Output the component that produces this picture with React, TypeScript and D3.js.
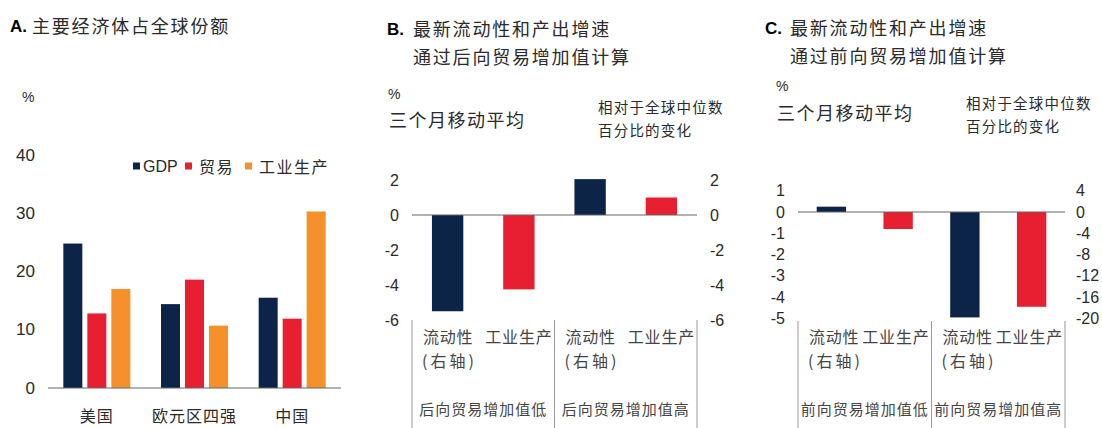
import React from 'react';
import * as d3 from 'd3';

// ---------- Data ----------
const categoriesA = ['美国', '欧元区四强', '中国'];
const seriesA = ['GDP', '贸易', '工业生产'];
const gdpA = [24.8, 14.4, 15.5];
const tradeA = [12.8, 18.6, 11.9];
const industryA = [17.0, 10.7, 30.3];
const ticksA = [0, 10, 20, 30, 40];

const groupsB = ['后向贸易增加值低', '后向贸易增加值高'];
const liquidityB = [-5.5, 2.05]; // right axis
const industryB = [-4.25, 1.0]; // left axis
const ticksBLeft = [-6, -4, -2, 0, 2];
const ticksBRight = [-6, -4, -2, 0, 2];

const groupsC = ['前向贸易增加值低', '前向贸易增加值高'];
const liquidityC = [1.0, -19.8]; // right axis
const industryC = [-0.8, -4.45]; // left axis
const ticksCLeft = [-5, -4, -3, -2, -1, 0, 1];
const ticksCRight = [-20, -16, -12, -8, -4, 0, 4];

const barLabels = ['流动性', '工业生产'];
const rightAxisNote = '(右轴)';

// ---------- Style ----------
const NAVY = '#0c2447';
const RED = '#e81f30';
const ORANGE = '#f6902b';
const colorsA = [NAVY, RED, ORANGE];
const CJK = "'Noto Sans CJK SC', 'Noto Sans', sans-serif";
const NUM = "'Liberation Sans', Arial, sans-serif";
const TXT = '#2a2a2a';
const AXIS = '#666';

function PanelA() {
  const x0 = d3.scaleBand<string>().domain(categoriesA).range([48, 341]).padding(0);
  const y = d3.scaleLinear().domain([0, 40]).range([388, 155]);
  const values = [gdpA, tradeA, industryA];
  const legendX = [133, 185, 245];
  return (
    <g>
      <text x={10} y={26} fontFamily={NUM} fontWeight="bold" fontSize={17} fill="#000" dominantBaseline="central">A.</text>
      <text x={32} y={25} fontFamily={CJK} fontSize={18} letterSpacing={1.8} fill={TXT} dominantBaseline="central">主要经济体占全球份额</text>
      <text x={22} y={97} fontFamily={NUM} fontSize={14} fill={TXT} dominantBaseline="central">%</text>
      {ticksA.map(t => (
        <text key={t} x={35} y={y(t)} textAnchor="end" fontFamily={NUM} fontSize={17} fill={TXT} dominantBaseline="central">{t}</text>
      ))}
      {categoriesA.map((c, ci) => {
        const center = (x0(c) as number) + x0.bandwidth() / 2;
        const x1 = d3.scaleBand<string>().domain(seriesA).range([center - 33.5, center + 33.5]).paddingInner(0.208);
        return (
          <g key={c}>
            {seriesA.map((s, si) => (
              <rect key={s} x={x1(s)} y={y(values[si][ci])} width={x1.bandwidth()} height={y(0) - y(values[si][ci])} fill={colorsA[si]} />
            ))}
            <text x={center} y={415} textAnchor="middle" fontFamily={CJK} fontSize={16} letterSpacing={1} fill={TXT} dominantBaseline="central">{c}</text>
          </g>
        );
      })}
      <line x1={48} x2={341} y1={y(0)} y2={y(0)} stroke={AXIS} strokeWidth={1.2} />
      {seriesA.map((s, i) => (
        <g key={s}>
          <rect x={legendX[i]} y={162.5} width={7} height={7} fill={colorsA[i]} />
          <text x={legendX[i] + (i === 0 ? 10 : 14)} y={166} fontFamily={i === 0 ? NUM : CJK} fontSize={16} letterSpacing={i === 0 ? 0 : 1.5} fill={TXT} dominantBaseline="central">{s}</text>
        </g>
      ))}
    </g>
  );
}

interface DualProps {
  letter: string;
  title1: string;
  title2: string;
  x0: number; x1: number;
  yTop: number; yBottom: number;
  leftDomain: [number, number];
  rightDomain: [number, number];
  leftTicks: number[];
  rightTicks: number[];
  liquidity: number[];
  industry: number[];
  groups: string[];
  letterX: number; titleX: number; titleY1: number; titleY2: number;
  pctX: number; pctY: number; maY: number;
  noteX: number; noteY1: number; noteY2: number;
  leftLabelX: number; rightLabelX: number;
  sepTop: number;
}

function DualPanel(p: DualProps) {
  const slots: string[] = [];
  p.groups.forEach((g, gi) => barLabels.forEach(b => slots.push(`${gi}-${b}`)));
  const xs = d3.scaleBand<string>().domain(slots).range([p.x0, p.x1]).paddingInner(0.56).paddingOuter(0.28);
  const yL = d3.scaleLinear().domain(p.leftDomain).range([p.yBottom, p.yTop]);
  const yR = d3.scaleLinear().domain(p.rightDomain).range([p.yBottom, p.yTop]);
  const step = xs.step();
  const bars: { key: string; x: number; y0: number; y1: number; color: string }[] = [];
  p.groups.forEach((g, gi) => {
    const kL = `${gi}-${barLabels[0]}`;
    const kI = `${gi}-${barLabels[1]}`;
    bars.push({ key: kL, x: xs(kL) as number, y0: yR(0), y1: yR(p.liquidity[gi]), color: NAVY });
    bars.push({ key: kI, x: xs(kI) as number, y0: yL(0), y1: yL(p.industry[gi]), color: RED });
  });
  const sepXs = [p.x0, p.x0 + 2 * step, p.x1];
  return (
    <g>
      <text x={p.letterX} y={p.titleY1 + 1} fontFamily={NUM} fontWeight="bold" fontSize={17} fill="#000" dominantBaseline="central">{p.letter}</text>
      <text x={p.titleX} y={p.titleY1} fontFamily={CJK} fontSize={18} letterSpacing={1.8} fill={TXT} dominantBaseline="central">{p.title1}</text>
      <text x={p.titleX} y={p.titleY2} fontFamily={CJK} fontSize={18} letterSpacing={1.8} fill={TXT} dominantBaseline="central">{p.title2}</text>
      <text x={p.pctX} y={p.pctY} fontFamily={NUM} fontSize={14} fill={TXT} dominantBaseline="central">%</text>
      <text x={p.pctX + 1} y={p.maY} fontFamily={CJK} fontSize={18} letterSpacing={1.5} fill={TXT} dominantBaseline="central">三个月移动平均</text>
      <text x={p.noteX} y={p.noteY1} fontFamily={CJK} fontSize={14.5} letterSpacing={1.2} fill={TXT} dominantBaseline="central">相对于全球中位数</text>
      <text x={p.noteX} y={p.noteY2} fontFamily={CJK} fontSize={14.5} letterSpacing={1.2} fill={TXT} dominantBaseline="central">百分比的变化</text>
      {p.leftTicks.map(t => (
        <text key={'l' + t} x={p.leftLabelX} y={yL(t)} textAnchor="end" fontFamily={NUM} fontSize={16} fill={TXT} dominantBaseline="central">{t}</text>
      ))}
      {p.rightTicks.map(t => (
        <text key={'r' + t} x={p.rightLabelX} y={yR(t)} textAnchor="start" fontFamily={NUM} fontSize={16} fill={TXT} dominantBaseline="central">{t}</text>
      ))}
      {bars.map(b => (
        <rect key={b.key} x={b.x} y={Math.min(b.y0, b.y1)} width={xs.bandwidth()} height={Math.abs(b.y1 - b.y0)} fill={b.color} />
      ))}
      <line x1={p.x0} x2={p.x1} y1={yL(0)} y2={yL(0)} stroke={AXIS} strokeWidth={1.2} />
      {sepXs.map((sx, i) => (
        <line key={i} x1={sx} x2={sx} y1={p.sepTop} y2={428} stroke="#999" strokeWidth={1} />
      ))}
      {p.groups.map((g, gi) => {
        const gx = p.x0 + gi * 2 * step;
        return (
          <g key={g}>
            <text x={gx + 11} y={336} fontFamily={CJK} fontSize={16} letterSpacing={0.8} fill="#444" dominantBaseline="central">{barLabels[0]}</text>
            <text x={gx + 10} y={360} fontFamily={CJK} fontSize={16} letterSpacing={3} fill="#444" dominantBaseline="central">{rightAxisNote}</text>
            <text x={gx + 2 * step - 2} y={336} textAnchor="end" fontFamily={CJK} fontSize={16} letterSpacing={0.8} fill="#444" dominantBaseline="central">{barLabels[1]}</text>
            <text x={gx + step} y={408} textAnchor="middle" fontFamily={CJK} fontSize={15} letterSpacing={1} fill="#444" dominantBaseline="central">{g}</text>
          </g>
        );
      })}
    </g>
  );
}

export default function App() {
  return (
    <svg width={1102} height={428} style={{ position: 'absolute', left: 0, top: 0, background: '#fff' }}>
      <rect width={1102} height={428} fill="#fff" />
      <PanelA />
      <DualPanel
        letter="B." title1="最新流动性和产出增速" title2="通过后向贸易增加值计算"
        x0={412} x1={697} yTop={180} yBottom={320}
        leftDomain={[-6, 2]} rightDomain={[-6, 2]}
        leftTicks={ticksBLeft} rightTicks={ticksBRight}
        liquidity={liquidityB} industry={industryB} groups={groupsB}
        letterX={387} titleX={413} titleY1={28} titleY2={56}
        pctX={388} pctY={94} maY={119}
        noteX={598} noteY1={106} noteY2={129}
        leftLabelX={399} rightLabelX={710} sepTop={320}
      />
      <DualPanel
        letter="C." title1="最新流动性和产出增速" title2="通过前向贸易增加值计算"
        x0={798} x1={1065} yTop={190.7} yBottom={318.5}
        leftDomain={[-5, 1]} rightDomain={[-20, 4]}
        leftTicks={ticksCLeft} rightTicks={ticksCRight}
        liquidity={liquidityC} industry={industryC} groups={groupsC}
        letterX={765} titleX={790} titleY1={27} titleY2={55}
        pctX={776} pctY={86} maY={112}
        noteX={966} noteY1={102} noteY2={125}
        leftLabelX={785} rightLabelX={1076} sepTop={321}
      />
    </svg>
  );
}
